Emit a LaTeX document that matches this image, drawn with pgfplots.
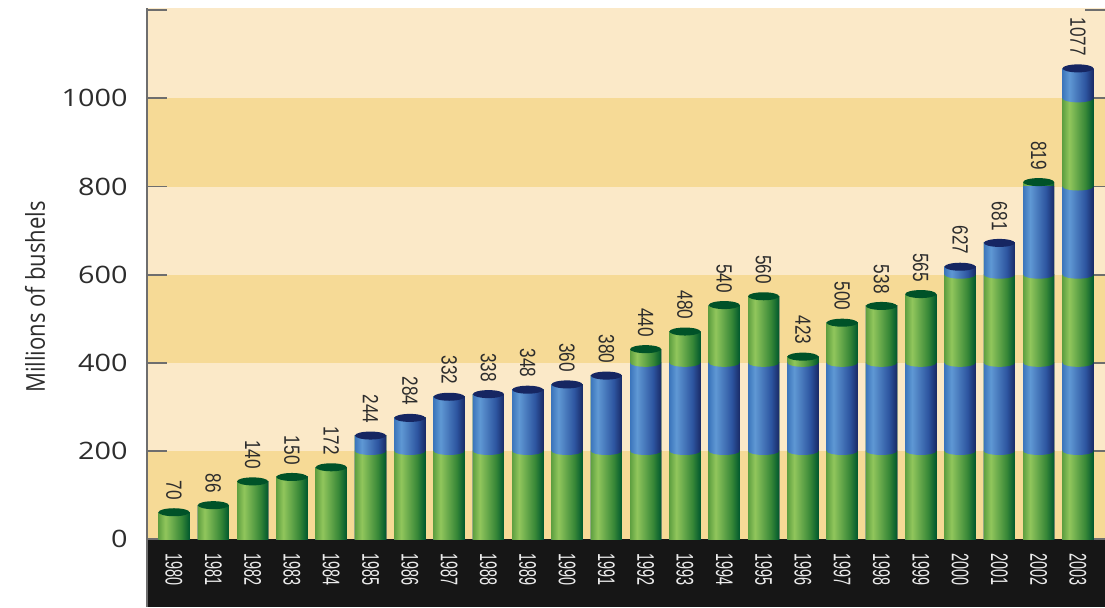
\documentclass[border=0pt]{standalone}
\usepackage{fontspec}
\usepackage{pgfplots}
\usepackage{pgfplotstable}
\pgfplotsset{compat=1.18}
\setmainfont{Open Sans}
\newfontfamily\tickfont[FakeStretch=1.2]{Open Sans}
\newfontfamily\valfont[FakeStretch=0.78]{Liberation Sans}
\newfontfamily\yearfont[FakeStretch=0.6]{Liberation Sans}
\newfontfamily\labfont[FakeStretch=0.85]{Open Sans}

\definecolor{bandL}{RGB}{251,233,200}
\definecolor{bandD}{RGB}{246,218,150}
\definecolor{bandK}{RGB}{22,22,22}
\definecolor{tickgray}{RGB}{110,110,110}
\definecolor{txt}{RGB}{45,45,45}
\definecolor{gA}{RGB}{95,160,65}
\definecolor{gB}{RGB}{145,198,92}
\definecolor{gC}{RGB}{55,135,55}
\definecolor{gD}{RGB}{0,88,45}
\definecolor{bA}{RGB}{60,118,188}
\definecolor{bB}{RGB}{95,152,212}
\definecolor{bC}{RGB}{45,85,160}
\definecolor{bD}{RGB}{25,42,102}
\definecolor{capG}{RGB}{0,82,40}
\definecolor{capB}{RGB}{22,38,98}

\pgfdeclarehorizontalshading{gcyl}{100bp}{color(0bp)=(gA); color(25bp)=(gA); color(36bp)=(gB); color(62bp)=(gC); color(75bp)=(gD); color(100bp)=(gD)}
\pgfdeclarehorizontalshading{bcyl}{100bp}{color(0bp)=(bA); color(25bp)=(bA); color(36bp)=(bB); color(62bp)=(bC); color(75bp)=(bD); color(100bp)=(bD)}

\pgfdeclareplotmark{capmark}{\pgfpathellipse{\pgfpointorigin}{\pgfqpoint{7.76pt}{0pt}}{\pgfqpoint{0pt}{2pt}}\pgfusepathqfill}
\pgfdeclareplotmark{segG}{\pgfpathellipse{\pgfpointorigin}{\pgfqpoint{7.76pt}{0pt}}{\pgfqpoint{0pt}{2pt}}\pgfshadepath{gcyl}{0}\pgfusepath{discard}}
\pgfdeclareplotmark{segB}{\pgfpathellipse{\pgfpointorigin}{\pgfqpoint{7.76pt}{0pt}}{\pgfqpoint{0pt}{2pt}}\pgfshadepath{bcyl}{0}\pgfusepath{discard}}

\pgfplotstableread{
x v
0 70
1 86
2 140
3 150
4 172
5 244
6 284
7 332
8 338
9 348
10 360
11 380
12 440
13 480
14 540
15 560
16 423
17 500
18 538
19 565
20 627
21 681
22 819
23 1077
}\data

\pgfplotsset{cyl/.style={ybar, bar width=0.79, bar shift=0pt, draw=none, shade, shading=#1}}

\begin{document}
\begin{tikzpicture}
\begin{axis}[
  at={(0,0)}, anchor=south west,
  scale only axis, width=479pt, height=299.5pt,
  xmin=-0.687, xmax=23.687, ymin=-154, ymax=1205,
  set layers,
  clip=false,
  axis line style={draw=none},
  xtick={0,...,23},
  xticklabels={1980,1981,1982,1983,1984,1985,1986,1987,1988,1989,1990,1991,1992,1993,1994,1995,1996,1997,1998,1999,2000,2001,2002,2003},
  xtick style={draw=none},
  ytick={0,200,400,600,800,1000,1200},
  yticklabels={0,200,400,600,800,1000,{}},
  ytick style={draw=tickgray, line width=0.9pt},
  major tick length=10pt, tick align=inside,
  yticklabel style={font=\tickfont\fontsize{12}{12}\selectfont, text=txt, inner sep=0pt, xshift=-9.5pt},
  xticklabel style={font=\yearfont\fontsize{12}{12}\selectfont, text=white!92!black, inner sep=0pt, yshift=27pt, rotate=-90, anchor=west},
  every axis y label/.style={at={(axis description cs:0,0.5175)}, xshift=-56pt, rotate=90, anchor=center, font=\labfont\fontsize{13}{13}\selectfont, text=txt},
  ylabel={Millions of bushels},
  unbounded coords=discard,
]
\begin{pgfonlayer}{axis background}
\fill[bandD] (axis cs:-0.687,0) rectangle (axis cs:23.687,200);
\fill[bandL] (axis cs:-0.687,200) rectangle (axis cs:23.687,400);
\fill[bandD] (axis cs:-0.687,400) rectangle (axis cs:23.687,600);
\fill[bandL] (axis cs:-0.687,600) rectangle (axis cs:23.687,800);
\fill[bandD] (axis cs:-0.687,800) rectangle (axis cs:23.687,1000);
\fill[bandL] (axis cs:-0.687,1000) rectangle (axis cs:23.687,1205);
\fill[bandK] (axis cs:-0.687,-154) rectangle (axis cs:23.687,0);
\draw[tickgray, line width=1.1pt] (rel axis cs:0,0) -- (rel axis cs:0,1);
\end{pgfonlayer}

% one path per bar so that each bar gets its own cylinder shading;
% painter's layers: tallest first, each shorter one repaints the lower bands
\pgfplotsinvokeforeach{0,...,23}{
\addplot[cyl=bcyl, x filter/.expression={x==#1 ? x : nan}] table[x=x, y expr={\thisrow{v}-9}] {\data};
\addplot[cyl=gcyl, x filter/.expression={x==#1 ? x : nan}] table[x=x, y expr={min(\thisrow{v}-9,1000)}] {\data};
\addplot[cyl=bcyl, x filter/.expression={x==#1 ? x : nan}] table[x=x, y expr={min(\thisrow{v}-9,800)}] {\data};
\addplot[cyl=gcyl, x filter/.expression={x==#1 ? x : nan}] table[x=x, y expr={min(\thisrow{v}-9,600)}] {\data};
\addplot[cyl=bcyl, x filter/.expression={x==#1 ? x : nan}] table[x=x, y expr={min(\thisrow{v}-9,400)}] {\data};
\addplot[cyl=gcyl, x filter/.expression={x==#1 ? x : nan}] table[x=x, y expr={min(\thisrow{v}-9,200)}] {\data};
}

% curved lower edges of the upper segments
\addplot[only marks, mark=segB] table[x=x, y expr={\thisrow{v}>220 ? 200 : nan}] {\data};
\addplot[only marks, mark=segG] table[x=x, y expr={\thisrow{v}>420 ? 400 : nan}] {\data};
\addplot[only marks, mark=segB] table[x=x, y expr={\thisrow{v}>620 ? 600 : nan}] {\data};
\addplot[only marks, mark=segG] table[x=x, y expr={\thisrow{v}>820 ? 800 : nan}] {\data};
\addplot[only marks, mark=segB] table[x=x, y expr={\thisrow{v}>1020 ? 1000 : nan}] {\data};

% top caps
\addplot[only marks, mark=capmark, mark options={fill=capG, draw=none}] table[x=x, y expr={mod(floor(\thisrow{v}/200),2)==0 ? \thisrow{v}-9 : nan}] {\data};
\addplot[only marks, mark=capmark, mark options={fill=capB, draw=none}] table[x=x, y expr={mod(floor(\thisrow{v}/200),2)==1 ? \thisrow{v}-9 : nan}] {\data};

% value labels
\addplot[draw=none, mark=none, point meta=explicit symbolic,
  nodes near coords={\valfont\fontsize{11}{11}\selectfont\pgfplotspointmeta},
  every node near coord/.append style={text=txt, inner sep=0pt, yshift=4pt, rotate=-90, anchor=east}]
  table[x=x, y=v, meta=v] {\data};
\end{axis}
\pgfresetboundingbox
\path (-73.5pt,0pt) rectangle (479pt,303.5pt);
\end{tikzpicture}
\end{document}
